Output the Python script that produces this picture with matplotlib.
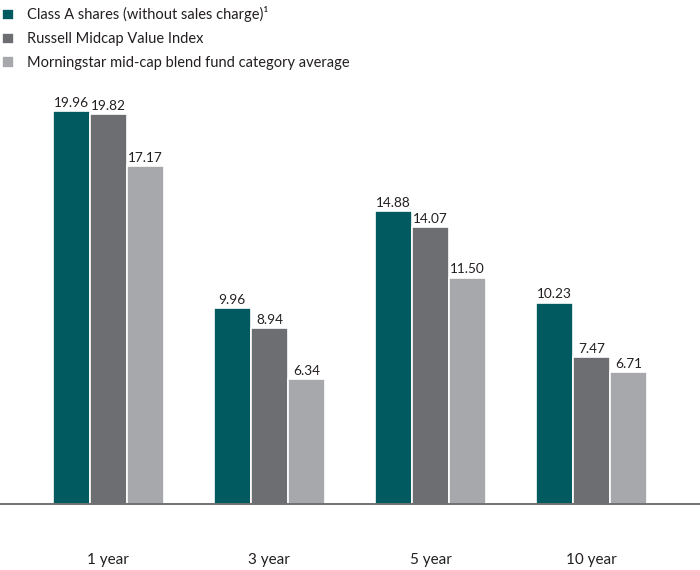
import matplotlib
matplotlib.use('Agg')
import matplotlib.pyplot as plt
import numpy as np

fams = ['Lato', 'DejaVu Sans']
plt.rcParams['font.family'] = fams

# data
periods = ["1 year", "3 year", "5 year", "10 year"]
series_names = ["Class A shares (without sales charge)\u00b9",
                "Russell Midcap Value Index",
                "Morningstar mid-cap blend fund category average"]
class_a = [19.96, 9.96, 14.88, 10.23]
russell = [19.82, 8.94, 14.07, 7.47]
morningstar = [17.17, 6.34, 11.50, 6.71]
colors = ["#005A60", "#6D6E71", "#A6A8AB"]

fig = plt.figure(figsize=(7, 5.7), dpi=100)
ax = fig.add_axes([0.0, 66 / 570, 1.0, 433 / 570])

x = np.arange(len(periods))
w = 0.23
handles = []
for i, (vals, c) in enumerate(zip([class_a, russell, morningstar], colors)):
    bars = ax.bar(x + (i - 1) * w, vals, width=w, color=c,
                  edgecolor='white', linewidth=1.2)
    handles.append(bars)
    for b, v in zip(bars, vals):
        ax.text(b.get_x() + b.get_width() / 2, v + 0.12, f"{v:.2f}",
                ha='center', va='bottom', fontsize=9.8, color='#231F20')

ax.set_xlim(-0.671, 3.671)
ax.set_ylim(0, 22)
for s in ['top', 'right', 'left']:
    ax.spines[s].set_visible(False)
ax.spines['bottom'].set_color('#58595B')
ax.spines['bottom'].set_linewidth(1.2)
ax.set_yticks([])
ax.set_xticks([])
for xi, p in zip(x, periods):
    ax.text(xi, -2.85, p, ha='center', va='center', fontsize=11,
            color='#231F20')

fig.legend(handles, series_names, loc='upper left',
           bbox_to_anchor=(-0.016, 1.012), frameon=False,
           prop={'family': fams, 'size': 10.5},
           handlelength=0.8, handleheight=0.8, handletextpad=0.9,
           labelspacing=0.68, labelcolor='#231F20')

plt.savefig("out.png", dpi=100)
